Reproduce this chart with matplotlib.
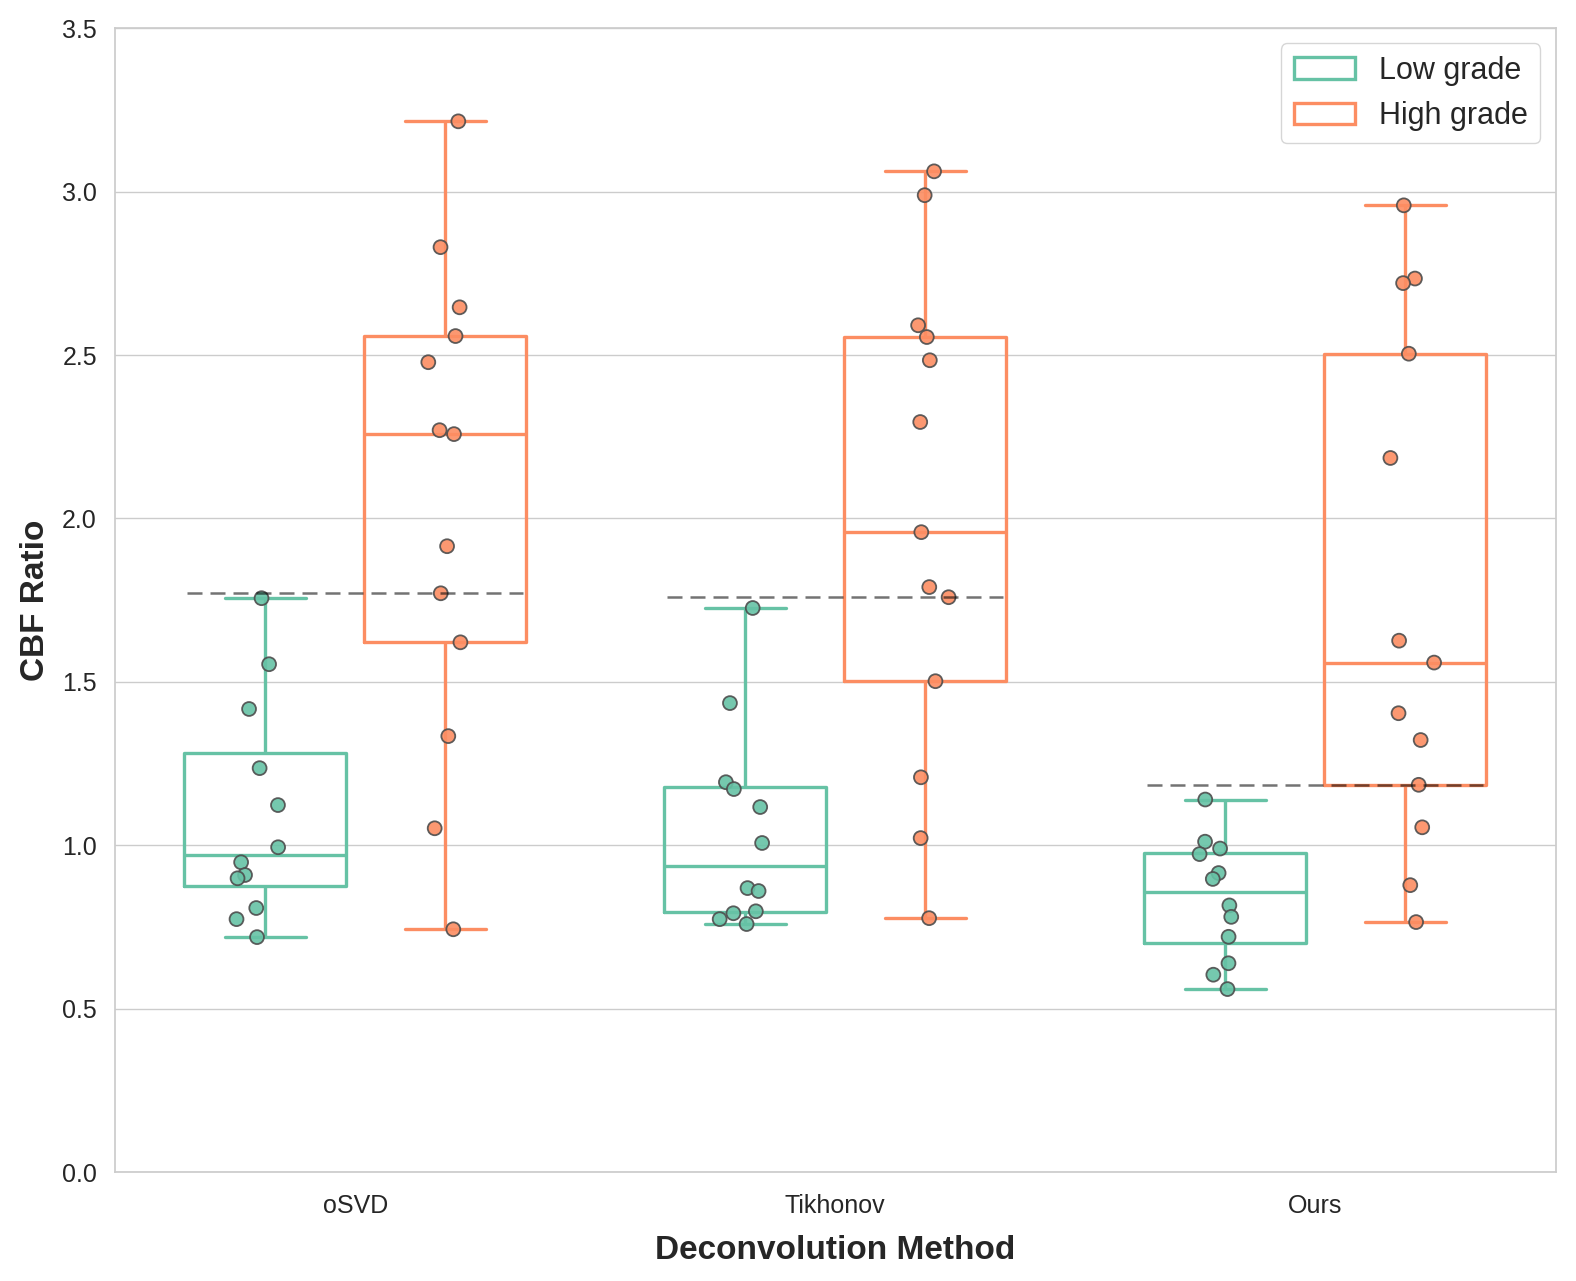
"""CBF ratio per deconvolution method, low vs high grade boxplots with points."""
import matplotlib
matplotlib.use("Agg")
import matplotlib.pyplot as plt
import numpy as np
import pandas as pd
import seaborn as sns

methods = ["oSVD", "Tikhonov", "Ours"]
grades = ["Low grade", "High grade"]

osvd_low = [1.756, 1.554, 1.417, 1.236, 1.123, 0.994, 0.948, 0.909, 0.899, 0.808, 0.774, 0.719]
osvd_high = [3.215, 2.830, 2.646, 2.558, 2.478, 2.258, 2.270, 1.915, 1.771, 1.621, 1.334, 1.052, 0.743]
tikh_low = [1.726, 1.435, 1.193, 1.172, 1.117, 1.007, 0.869, 0.860, 0.798, 0.792, 0.774, 0.759]
tikh_high = [3.062, 2.989, 2.591, 2.555, 2.484, 2.295, 1.958, 1.790, 1.759, 1.502, 1.208, 1.022, 0.777]
ours_low = [1.140, 1.011, 0.990, 0.973, 0.915, 0.897, 0.816, 0.781, 0.720, 0.639, 0.604, 0.560]
ours_high = [2.958, 2.734, 2.720, 2.504, 2.185, 1.626, 1.559, 1.404, 1.322, 1.185, 1.055, 0.878, 0.765]

# cut-off per method (dashed line)
thresholds = [1.771, 1.759, 1.185]

groups = {
    ("oSVD", "Low grade"): osvd_low,
    ("oSVD", "High grade"): osvd_high,
    ("Tikhonov", "Low grade"): tikh_low,
    ("Tikhonov", "High grade"): tikh_high,
    ("Ours", "Low grade"): ours_low,
    ("Ours", "High grade"): ours_high,
}
rows = []
for (m, g), vals in groups.items():
    for v in vals:
        rows.append({"Method": m, "Grade": g, "CBF Ratio": v})
df = pd.DataFrame(rows)

sns.set_theme(style="whitegrid")
plt.rcParams["font.family"] = ["Liberation Sans", "DejaVu Sans"]

palette = sns.color_palette("Set2", 2)

fig = plt.figure(figsize=(15.76, 12.81), dpi=100)
ax = fig.add_axes([0.073, 0.085, 0.914, 0.893])

sns.boxplot(
    data=df, x="Method", y="CBF Ratio", hue="Grade", order=methods, hue_order=grades,
    palette=palette, fill=False, width=0.75, gap=0.1, linewidth=2.4, showfliers=False, ax=ax,
)
np.random.seed(3)
sns.stripplot(
    data=df, x="Method", y="CBF Ratio", hue="Grade", order=methods, hue_order=grades,
    palette=palette, dodge=True, jitter=True, size=10, edgecolor="0.3", linewidth=1.3,
    alpha=0.9, legend=False, ax=ax, zorder=3,
)

for i, t in enumerate(thresholds):
    ax.hlines(t, i - 0.35, i + 0.35, colors="black", alpha=0.55, linewidth=1.8,
              linestyles=(0, (6, 3.2)), zorder=4)

ax.set_ylim(0, 3.5)
ax.set_yticks(np.arange(0, 3.51, 0.5))
ax.set_xlim(-0.5, 2.5)
ax.tick_params(axis="both", labelsize=18)
ax.tick_params(axis="x", pad=10)
ax.tick_params(axis="y", pad=7)
ax.set_xlabel("Deconvolution Method", fontsize=24, fontweight="bold", labelpad=12)
ax.set_ylabel("CBF Ratio", fontsize=24, fontweight="bold", labelpad=8)

sns.move_legend(ax, "upper right", title=None, fontsize=22, frameon=True)

fig.savefig("out.png", dpi=100)
